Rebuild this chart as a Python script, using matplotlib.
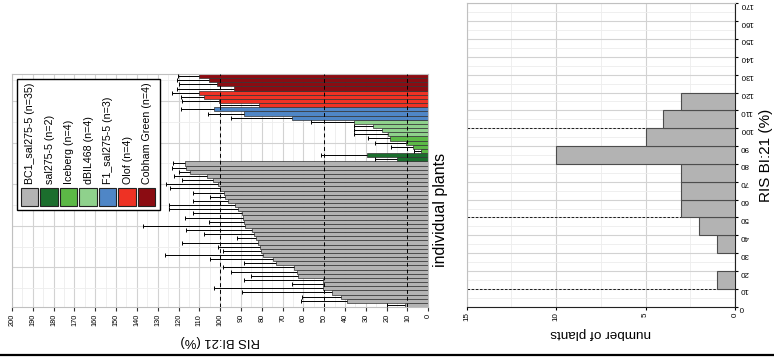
import numpy as np
import matplotlib.pyplot as plt
from matplotlib.patches import Rectangle
from matplotlib.lines import Line2D

plt.rcParams['font.family'] = ['Liberation Sans', 'DejaVu Sans']

# group labels, colours and per-plant RIS BI:21 values (sorted ascending within group)
groups = ['BC1_sal275-5 (n=35)', 'sal275-5 (n=2)', 'Iceberg (n=4)', 'dBIL468 (n=4)',
          'F1_sal275-5 (n=3)', 'Olof (n=4)', 'Cobham Green (n=4)']
colors = ['#b3b3b3', '#1b6e2d', '#5cb946', '#8fd18c', '#4f86c6', '#ee3224', '#8b0c12']

bc1_vals = [11.2, 38.9, 41.9, 46.1, 50.4, 50.8, 50.8, 62.8, 63.3, 64.3, 73.3, 74.8,
            79.3, 80.3, 80.8, 81.6, 82.7, 83.7, 84.9, 88.1, 88.6, 88.9, 89.7, 91.3,
            92.9, 96.1, 97.7, 98.2, 100.3, 101.2, 103.3, 106.2, 114.5, 116.4, 116.9]
bc1_sd = [8.5, 22.4, 18.9, 43.5, 52.4, 14.8, 37.8, 22.2, 31.3, 34.2, 15.1, 30.1,
          47.2, 18.5, 20.1, 36.6, 9.4, 24.1, 31.5, 48.9, 16.9, 28.1, 23.3, 33.2,
          31.6, 16.9, 7.3, 14.8, 23.7, 24.8, 15.2, 15.8, 5.5, 6.6, 5.6]
sal_vals = [15.2, 29.6]
sal_sd = [10.4, 22.1]
iceberg_vals = [3.5, 7.2, 10.7, 18.4]
iceberg_sd = [3.2, 10.7, 14.9, 10.4]
dbil_vals = [19.2, 22.4, 26.4, 35.7]
dbil_sd = [16.5, 13.3, 9.3, 20.8]
f1_vals = [65.6, 88.5, 102.8]
f1_sd = [29.4, 17.5, 16.2]
olof_vals = [81.2, 100.4, 107.6, 110.0]
olof_sd = [18.9, 17.9, 11.3, 13.1]
cobham_vals = [93.3, 101.4, 105.2, 110.0]
cobham_sd = [27.3, 18.2, 15.7, 10.1]

all_vals = [bc1_vals, sal_vals, iceberg_vals, dbil_vals, f1_vals, olof_vals, cobham_vals]
all_sd = [bc1_sd, sal_sd, iceberg_sd, dbil_sd, f1_sd, olof_sd, cobham_sd]
ref_lines = [10, 50, 100]

W, H = 774, 362
fig = plt.figure(figsize=(W / 100, H / 100), dpi=100)

# ---- left panel: individual plants ----
ax = fig.add_axes([12 / W, 55 / H, 416.3 / W, 233 / H])
pos = 1
for vals, sd, col in zip(all_vals, all_sd, colors):
    y = np.arange(pos, pos + len(vals))
    vals = np.array(vals)
    ax.barh(y, vals, height=1.0, color=col, edgecolor='#333333', linewidth=0.5, zorder=2)
    ax.hlines(y, vals, vals + np.array(sd), color='black', lw=0.7, zorder=4)
    ax.plot(vals + np.array(sd), y, '|', color='black', ms=3, mew=0.7, zorder=4)
    pos += len(vals)
for r in ref_lines:
    ax.axvline(r, color='black', ls=(0, (4, 3)), lw=0.7, zorder=3)

ax.set_xlim(200, 0)
ax.set_ylim(0.5, pos - 0.5)
ax.set_xticks(np.arange(0, 201, 10))
ax.set_xticks(np.arange(5, 200, 10), minor=True)
ax.set_yticks(np.arange(10, 51, 10))
ax.set_yticks(np.arange(5, 56, 10), minor=True)
ax.set_yticklabels([])
ax.tick_params(axis='x', labelrotation=90, labelsize=5.3, length=3, color='#333333', pad=2)
ax.tick_params(axis='x', which='minor', length=0)
ax.tick_params(axis='y', which='both', length=0)
ax.grid(which='major', color='#d2d2d2', lw=0.8, zorder=0)
ax.grid(which='minor', color='#ededed', lw=0.6, zorder=0)
ax.set_axisbelow(True)
for s in ax.spines.values():
    s.set_color('#c0c0c0')
ax.set_xlabel('RIS BI:21 (%)', fontsize=9.4, rotation=180, labelpad=6)

# legend drawn as a row of patches with rotated labels
fig.patches.append(Rectangle((17 / W, 1 - 210 / H), 143 / W, 131 / H, transform=fig.transFigure,
                             facecolor='white', edgecolor='black', lw=1.0, zorder=5))
for i, (g, col) in enumerate(zip(groups, colors)):
    x0 = 20.7 + 19.5 * i
    fig.patches.append(Rectangle((x0 / W, 1 - 206.5 / H), 17.6 / W, 18 / H,
                                 transform=fig.transFigure, facecolor=col,
                                 edgecolor='#222222', lw=0.8, zorder=6))
    fig.text((x0 + 9.5) / W, 1 - 184 / H, g, rotation=90, rotation_mode='anchor',
             ha='left', va='center', fontsize=7.7, zorder=7)

fig.text(441 / W, 1 - 210 / H, 'individual plants', rotation=90, ha='center', va='center',
         fontsize=11.5)

# ---- right panel: histogram of BC1 plants ----
ax2 = fig.add_axes([466.7 / W, 55.3 / H, 268.3 / W, 303.4 / H])
ax2.hist(bc1_vals, bins=np.arange(0, 180, 10), orientation='horizontal',
         color='#b3b3b3', edgecolor='#4d4d4d', lw=0.8, zorder=3)
for r in ref_lines:
    ax2.axhline(r, color='black', ls=(0, (3, 2)), lw=0.6, zorder=2)
ax2.set_xlim(15, 0)
ax2.set_ylim(0, 170)
ax2.set_xticks([0, 5, 10, 15])
ax2.set_xticks([2.5, 7.5, 12.5], minor=True)
ax2.set_yticks(np.arange(0, 171, 10))
ax2.set_yticks(np.arange(5, 170, 10), minor=True)
ax2.yaxis.tick_right()
ax2.yaxis.set_label_position('right')
ax2.tick_params(axis='y', labelrotation=180, labelsize=5.8, length=2, pad=1.5)
ax2.tick_params(axis='x', labelrotation=90, labelsize=5.8, length=2, pad=2)
ax2.tick_params(which='minor', length=0)
ax2.grid(which='major', color='#d2d2d2', lw=0.8, zorder=0)
ax2.grid(which='minor', color='#ededed', lw=0.6, zorder=0)
ax2.set_axisbelow(True)
ax2.spines['left'].set_color('#c0c0c0')
ax2.spines['top'].set_color('#c0c0c0')
ax2.spines['right'].set_color('#222222')
ax2.spines['bottom'].set_color('#222222')
ax2.set_xlabel('number of plants', fontsize=9.7, rotation=180, labelpad=4)
ax2.set_ylabel('RIS BI:21 (%)', fontsize=11, labelpad=4)

fig.add_artist(Line2D([0, 1], [7 / H, 7 / H], color='black', lw=1.6, transform=fig.transFigure))

fig.savefig('out.png', dpi=100)
